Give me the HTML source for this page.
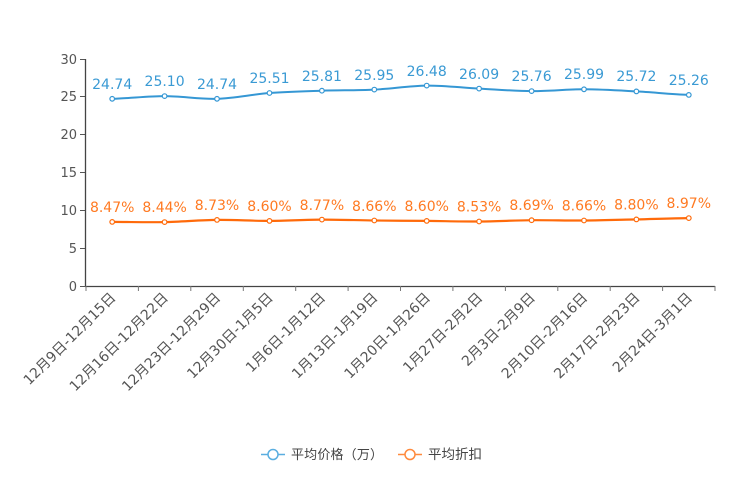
<!DOCTYPE html>
<html><head><meta charset="utf-8"><style>
html,body{margin:0;padding:0;background:#fff;}
svg{display:block;}
text{font-family:"DejaVu Sans","Liberation Sans","Noto Sans CJK SC",sans-serif;}
.cjk{font-family:"Noto Sans CJK SC","WenQuanYi Zen Hei",sans-serif;}
</style></head><body>
<svg width="744" height="496" viewBox="0 0 744 496" xmlns="http://www.w3.org/2000/svg">
<rect width="744" height="496" fill="#fff"/>
<g stroke="#444" stroke-width="1.3" fill="none">
<line x1="85.5" y1="59" x2="85.5" y2="286"/>
<line x1="85" y1="286.5" x2="715" y2="286.5"/>
</g>
<g stroke="#555" stroke-width="1">
<line x1="80" y1="286.5" x2="85" y2="286.5"/>
<line x1="80" y1="248.5" x2="85" y2="248.5"/>
<line x1="80" y1="210.5" x2="85" y2="210.5"/>
<line x1="80" y1="172.5" x2="85" y2="172.5"/>
<line x1="80" y1="134.5" x2="85" y2="134.5"/>
<line x1="80" y1="96.5" x2="85" y2="96.5"/>
<line x1="80" y1="59.5" x2="85" y2="59.5"/>
</g>
<g stroke="#777" stroke-width="1">
<line x1="86" y1="286" x2="86" y2="291"/>
<line x1="138.4" y1="286" x2="138.4" y2="291"/>
<line x1="190.8" y1="286" x2="190.8" y2="291"/>
<line x1="243.3" y1="286" x2="243.3" y2="291"/>
<line x1="295.7" y1="286" x2="295.7" y2="291"/>
<line x1="348.1" y1="286" x2="348.1" y2="291"/>
<line x1="400.5" y1="286" x2="400.5" y2="291"/>
<line x1="452.9" y1="286" x2="452.9" y2="291"/>
<line x1="505.4" y1="286" x2="505.4" y2="291"/>
<line x1="557.8" y1="286" x2="557.8" y2="291"/>
<line x1="610.2" y1="286" x2="610.2" y2="291"/>
<line x1="662.6" y1="286" x2="662.6" y2="291"/>
<line x1="715" y1="286" x2="715" y2="291"/>
</g>
<g font-size="13" fill="#555" text-anchor="end">
<text x="77" y="291">0</text>
<text x="77" y="253">5</text>
<text x="77" y="215">10</text>
<text x="77" y="177">15</text>
<text x="77" y="139">20</text>
<text x="77" y="101">25</text>
<text x="77" y="64">30</text>
</g>
<g font-size="14" fill="#555" text-anchor="end">
<text transform="translate(113,295) rotate(-45)" dy="0.35em">12月9日-12月15日</text>
<text transform="translate(165.4,295) rotate(-45)" dy="0.35em">12月16日-12月22日</text>
<text transform="translate(217.8,295) rotate(-45)" dy="0.35em">12月23日-12月29日</text>
<text transform="translate(270.3,295) rotate(-45)" dy="0.35em">12月30日-1月5日</text>
<text transform="translate(322.7,295) rotate(-45)" dy="0.35em">1月6日-1月12日</text>
<text transform="translate(375.1,295) rotate(-45)" dy="0.35em">1月13日-1月19日</text>
<text transform="translate(427.5,295) rotate(-45)" dy="0.35em">1月20日-1月26日</text>
<text transform="translate(479.9,295) rotate(-45)" dy="0.35em">1月27日-2月2日</text>
<text transform="translate(532.4,295) rotate(-45)" dy="0.35em">2月3日-2月9日</text>
<text transform="translate(584.8,295) rotate(-45)" dy="0.35em">2月10日-2月16日</text>
<text transform="translate(637.2,295) rotate(-45)" dy="0.35em">2月17日-2月23日</text>
<text transform="translate(689.6,295) rotate(-45)" dy="0.35em">2月24日-3月1日</text>
</g>
<path fill="none" stroke="#3597d4" stroke-width="2" d="M112.2,98.8 C129.7,98.35 147.1,96.1 164.6,96.1 C182.1,96.1 199.5,99.32 217.0,98.8 C234.5,98.28 252.0,94.35 269.5,93.0 C287.0,91.65 304.4,91.27 321.9,90.7 C339.4,90.13 356.8,90.45 374.3,89.6 C391.8,88.75 409.2,85.77 426.7,85.6 C444.2,85.43 461.6,87.68 479.1,88.6 C496.6,89.52 514.1,90.98 531.6,91.1 C549.1,91.22 566.5,89.25 584.0,89.3 C601.5,89.35 618.9,90.47 636.4,91.4 C653.9,92.33 671.3,94.32 688.8,94.9"/>
<g fill="#fff" stroke="#3597d4" stroke-width="1.2">
<circle cx="112.2" cy="98.8" r="2.3"/><circle cx="164.6" cy="96.1" r="2.3"/><circle cx="217.0" cy="98.8" r="2.3"/><circle cx="269.5" cy="93.0" r="2.3"/><circle cx="321.9" cy="90.7" r="2.3"/><circle cx="374.3" cy="89.6" r="2.3"/><circle cx="426.7" cy="85.6" r="2.3"/><circle cx="479.1" cy="88.6" r="2.3"/><circle cx="531.6" cy="91.1" r="2.3"/><circle cx="584.0" cy="89.3" r="2.3"/><circle cx="636.4" cy="91.4" r="2.3"/><circle cx="688.8" cy="94.9" r="2.3"/>
</g>
<g font-size="14" fill="#3a9ad4" text-anchor="middle">
<text x="112.2" y="89">24.74</text><text x="164.6" y="86">25.10</text><text x="217.0" y="89">24.74</text><text x="269.5" y="83">25.51</text><text x="321.9" y="81">25.81</text><text x="374.3" y="80">25.95</text><text x="426.7" y="76">26.48</text><text x="479.1" y="79">26.09</text><text x="531.6" y="81">25.76</text><text x="584.0" y="79">25.99</text><text x="636.4" y="81">25.72</text><text x="688.8" y="85">25.26</text>
</g>
<path fill="none" stroke="#ff6a0a" stroke-width="2.2" d="M112.2,221.9 C129.7,221.93 147.1,222.43 164.6,222.1 C182.1,221.77 199.5,220.1 217.0,219.9 C234.5,219.7 252.0,220.95 269.5,220.9 C287.0,220.85 304.4,219.67 321.9,219.6 C339.4,219.53 356.8,220.28 374.3,220.5 C391.8,220.72 409.2,220.73 426.7,220.9 C444.2,221.07 461.6,221.62 479.1,221.5 C496.6,221.38 514.1,220.37 531.6,220.2 C549.1,220.03 566.5,220.63 584.0,220.5 C601.5,220.37 618.9,219.8 636.4,219.4 C653.9,219.0 671.3,218.32 688.8,218.1"/>
<g fill="#fff" stroke="#ff6a0a" stroke-width="1.2">
<circle cx="112.2" cy="221.9" r="2.3"/><circle cx="164.6" cy="222.1" r="2.3"/><circle cx="217.0" cy="219.9" r="2.3"/><circle cx="269.5" cy="220.9" r="2.3"/><circle cx="321.9" cy="219.6" r="2.3"/><circle cx="374.3" cy="220.5" r="2.3"/><circle cx="426.7" cy="220.9" r="2.3"/><circle cx="479.1" cy="221.5" r="2.3"/><circle cx="531.6" cy="220.2" r="2.3"/><circle cx="584.0" cy="220.5" r="2.3"/><circle cx="636.4" cy="219.4" r="2.3"/><circle cx="688.8" cy="218.1" r="2.3"/>
</g>
<g font-size="14" fill="#ff7a22" text-anchor="middle">
<text x="112.2" y="212">8.47%</text><text x="164.6" y="212">8.44%</text><text x="217.0" y="210">8.73%</text><text x="269.5" y="211">8.60%</text><text x="321.9" y="210">8.77%</text><text x="374.3" y="211">8.66%</text><text x="426.7" y="211">8.60%</text><text x="479.1" y="211.5">8.53%</text><text x="531.6" y="210">8.69%</text><text x="584.0" y="210.5">8.66%</text><text x="636.4" y="209.5">8.80%</text><text x="688.8" y="208">8.97%</text>
</g>
<line x1="261" y1="454.5" x2="285" y2="454.5" stroke="#5aaee0" stroke-width="1.5"/>
<circle cx="273" cy="454.5" r="5" fill="#fff" stroke="#5aaee0" stroke-width="1.5"/>
<text class="cjk" x="291" y="459" font-size="13" fill="#444" textLength="92" lengthAdjust="spacing">平均价格（万）</text>
<line x1="398" y1="454.5" x2="422" y2="454.5" stroke="#ff8a3d" stroke-width="1.5"/>
<circle cx="410" cy="454.5" r="5" fill="#fff" stroke="#ff8a3d" stroke-width="1.5"/>
<text class="cjk" x="428" y="459" font-size="13.5" fill="#444">平均折扣</text>
</svg>
</body></html>
